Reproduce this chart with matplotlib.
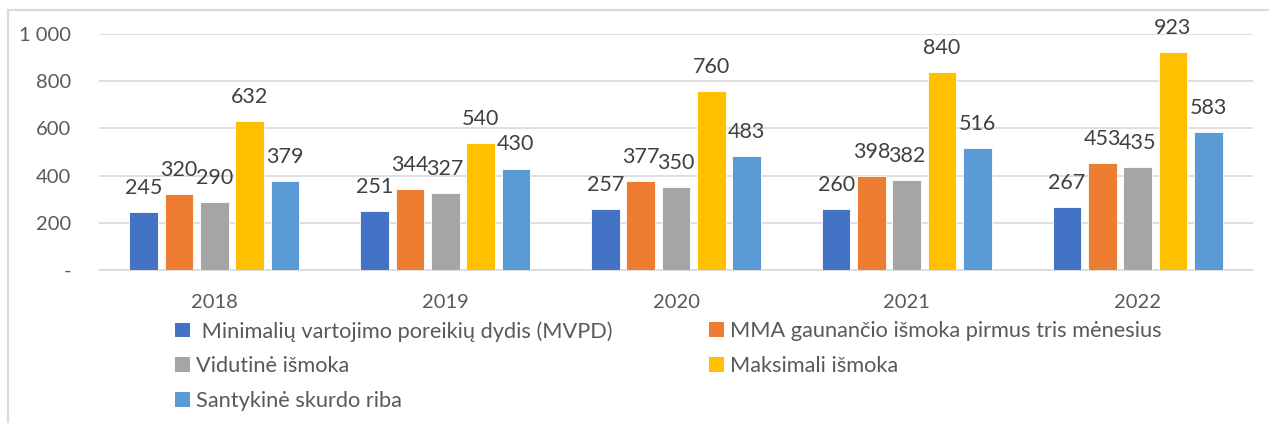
import numpy as np
import matplotlib.pyplot as plt
from matplotlib.lines import Line2D
from matplotlib.patches import Patch

plt.rcParams['font.family'] = ['Lato', 'DejaVu Sans']

years = ['2018', '2019', '2020', '2021', '2022']
series_names = [
    ' Minimalių vartojimo poreikių dydis (MVPD)',
    'MMA gaunančio išmoka pirmus tris mėnesius',
    'Vidutinė išmoka',
    'Maksimali išmoka',
    'Santykinė skurdo riba',
]
mvpd = [245, 251, 257, 260, 267]
mma_first = [320, 344, 377, 398, 453]
avg_benefit = [290, 327, 350, 382, 435]
max_benefit = [632, 540, 760, 840, 923]
poverty_line = [379, 430, 483, 516, 583]
colors = ['#4472C4', '#ED7D31', '#A5A5A5', '#FFC000', '#5B9BD5']

yticks = [0, 200, 400, 600, 800, 1000]
ytick_labels = ['-', '200', '400', '600', '800', '1 000']

W, H = 1269, 423
fig = plt.figure(figsize=(W / 100, H / 100), dpi=100)
ax = fig.add_axes([99 / W, 1 - 270 / H, (1253 - 99) / W, (270 - 34) / H])

x = np.arange(len(years))
pitch = 0.153
width = 0.124
all_series = [mvpd, mma_first, avg_benefit, max_benefit, poverty_line]
handles = []
for i, vals in enumerate(all_series):
    pos = x + (i - 2) * pitch
    ax.bar(pos, vals, width=width, color=colors[i], edgecolor='white', linewidth=0.6, zorder=3)
    for px, v in zip(pos, vals):
        ax.annotate(str(v), (px, v), xytext=(0, 13), textcoords='offset points',
                    ha='center', va='baseline', fontsize=15.5, color='#404040',
                    annotation_clip=False)
    handles.append(Patch(facecolor=colors[i], label=series_names[i]))

ax.set_xlim(-0.5, 4.5)
ax.set_ylim(0, 1000)
ax.set_yticks(yticks)
ax.set_yticklabels(ytick_labels)
ax.set_xticks(x)
ax.set_xticklabels(years)
ax.tick_params(axis='both', length=0, labelsize=14.5, labelcolor='#595959')
ax.tick_params(axis='y', pad=20)
ax.tick_params(axis='x', pad=17)
ax.grid(axis='y', color='#D9D9D9', linewidth=1.2, zorder=0)
for s in ['top', 'right', 'left']:
    ax.spines[s].set_visible(False)
ax.spines['bottom'].set_color('#D9D9D9')
ax.spines['bottom'].set_linewidth(1.2)

leg_kw = dict(frameon=False, fontsize=15.7, handlelength=0.67, handleheight=0.67,
              handletextpad=0.3, labelspacing=0.68, borderpad=0, borderaxespad=0,
              labelcolor='#595959', loc='upper left')
leg1 = fig.legend(handles=[handles[0], handles[2], handles[4]],
                  bbox_to_anchor=(175 / W, 1 - 321 / H), **leg_kw)
leg2 = fig.legend(handles=[handles[1], handles[3]],
                  bbox_to_anchor=(709 / W, 1 - 321 / H), **leg_kw)

# outer chart frame (cropped at right and bottom)
fig.add_artist(Line2D([8 / W, 8 / W], [0, 1 - 10 / H], color='#D9D9D9', linewidth=1.5))
fig.add_artist(Line2D([8 / W, 1], [1 - 10 / H, 1 - 10 / H], color='#D9D9D9', linewidth=1.5))

fig.savefig('out.png', dpi=100)
